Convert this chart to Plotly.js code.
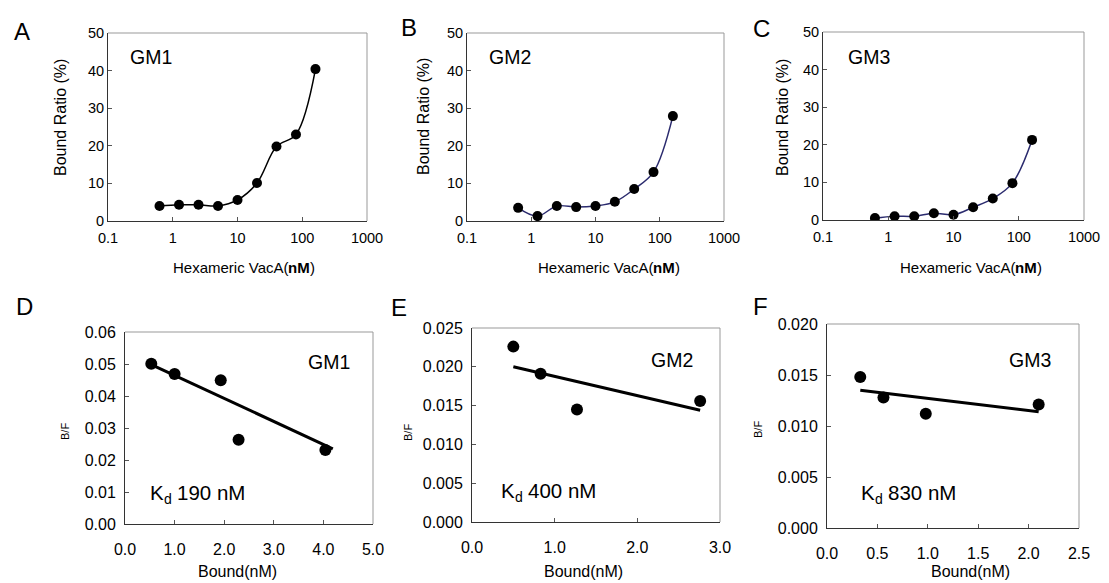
<!DOCTYPE html>
<html><head><meta charset="utf-8">
<script src="https://cdn.plot.ly/plotly-3.0.1.min.js"></script>
<style>html,body{margin:0;padding:0;background:#fff;}#chart{width:1109px;height:583px;}</style>
</head><body><div id="chart"></div>
<script>
// ---- data ----
const concX = [0.625, 1.25, 2.5, 5, 10, 20, 40, 80, 160];
const gm1Bound = [4.0, 4.3, 4.3, 4.0, 5.6, 10.1, 19.8, 23.0, 40.4];
const gm2Bound = [3.5, 1.3, 4.0, 3.7, 4.0, 5.1, 8.5, 13.0, 27.9];
const gm3Bound = [0.5, 1.0, 1.0, 1.8, 1.4, 3.4, 5.7, 9.8, 21.3];

const gm1ScatB = [0.53, 1.00, 1.93, 2.29, 4.04];
const gm1ScatBF = [0.0501, 0.0469, 0.0449, 0.0263, 0.0231];
const gm1FitB = [0.53, 4.19];
const gm1FitBF = [0.0498, 0.0235];

const gm2ScatB = [0.50, 0.83, 1.27, 2.76];
const gm2ScatBF = [0.0226, 0.0191, 0.0145, 0.0156];
const gm2FitB = [0.50, 2.76];
const gm2FitBF = [0.0200, 0.0144];

const gm3ScatB = [0.33, 0.56, 0.98, 2.10];
const gm3ScatBF = [0.0148, 0.0128, 0.0112, 0.0121];
const gm3FitB = [0.33, 2.10];
const gm3FitBF = [0.0135, 0.0114];

const logTickVals = [0.1, 1, 10, 100, 1000];
const logTickText = ['0.1', '1', '10', '100', '1000'];
const panelLetters = ['A', 'B', 'C', 'D', 'E', 'F'];
const gmNames = ['GM1', 'GM2', 'GM3'];
const kdValues = ['190 nM', '400 nM', '830 nM'];

// ---- layout helpers ----
const W = 1109, H = 583;
const FONT = 'Liberation Sans, Arial, sans-serif';
const dx = (a, b) => [a / W, b / W];
const dy = (t, b) => [1 - b / H, 1 - t / H];
const navy = '#2b2b6e';

const cv = document.createElement('canvas').getContext('2d');
function textW(t, size, bold) {
  cv.font = (bold ? 'bold ' : '') + size + 'px "Liberation Sans", Arial, sans-serif';
  return cv.measureText(t).width;
}

const traces = [];
function curve(x, y, xa, ya, color) {
  traces.push({x, y, xaxis: xa, yaxis: ya, type: 'scatter', mode: 'lines+markers',
    line: {color, width: 1.5, shape: 'spline', smoothing: 1},
    marker: {color: '#000', size: 10}, hoverinfo: 'skip'});
}
function scat(x, y, fx, fy, xa, ya) {
  traces.push({x: fx, y: fy, xaxis: xa, yaxis: ya, type: 'scatter', mode: 'lines',
    line: {color: '#000', width: 3}, hoverinfo: 'skip'});
  traces.push({x, y, xaxis: xa, yaxis: ya, type: 'scatter', mode: 'markers',
    marker: {color: '#000', size: 12}, hoverinfo: 'skip'});
}
curve(concX, gm1Bound, 'x', 'y', '#000');
curve(concX, gm2Bound, 'x2', 'y2', navy);
curve(concX, gm3Bound, 'x3', 'y3', navy);
scat(gm1ScatB, gm1ScatBF, gm1FitB, gm1FitBF, 'x4', 'y4');
scat(gm2ScatB, gm2ScatBF, gm2FitB, gm2FitBF, 'x5', 'y5');
scat(gm3ScatB, gm3ScatBF, gm3FitB, gm3FitBF, 'x6', 'y6');

const boxes = [
  {x: [108, 367], y: [33, 221]},
  {x: [467, 724], y: [33, 221]},
  {x: [823, 1084], y: [32, 220]},
  {x: [125, 373], y: [332, 524]},
  {x: [472, 720], y: [328, 522]},
  {x: [827, 1079], y: [324, 528]}
];

const layout = {
  width: W, height: H, showlegend: false,
  margin: {l: 0, r: 0, t: 0, b: 0},
  paper_bgcolor: '#fff', plot_bgcolor: '#fff',
  font: {family: FONT, color: '#000'},
  annotations: [], shapes: []
};

const axCommon = {showgrid: false, zeroline: false, showline: true, linecolor: '#333', linewidth: 1,
  ticks: 'inside', ticklen: 4, tickcolor: '#555', fixedrange: true};

for (let i = 0; i < 6; i++) {
  const k = i === 0 ? '' : String(i + 1);
  const b = boxes[i];
  const top = i < 3;
  const xa = Object.assign({}, axCommon, {domain: dx(b.x[0], b.x[1]), anchor: 'y' + k,
    tickfont: {size: top ? 14.5 : 16}});
  const ya = Object.assign({}, axCommon, {domain: dy(b.y[0], b.y[1]), anchor: 'x' + k,
    tickfont: {size: top ? 14.5 : 16}});
  if (top) {
    Object.assign(xa, {type: 'log', range: [-1, 3], tickvals: logTickVals, ticktext: logTickText, ticklabelstandoff: 4});
    Object.assign(ya, {range: [0, 50], dtick: 10, tick0: 0, ticklabelstandoff: 0});
  } else {
    if (i === 3) {
      Object.assign(xa, {range: [0, 5], dtick: 1, tick0: 0, tickformat: '.1f'});
      Object.assign(ya, {range: [0, 0.06], dtick: 0.01, tick0: 0, tickformat: '.2f'});
    } else if (i === 4) {
      Object.assign(xa, {range: [0, 3], dtick: 1, tick0: 0, tickformat: '.1f'});
      Object.assign(ya, {range: [0, 0.025], dtick: 0.005, tick0: 0, tickformat: '.3f'});
    } else {
      Object.assign(xa, {range: [0, 2.5], dtick: 0.5, tick0: 0, tickformat: '.1f'});
      Object.assign(ya, {range: [0, 0.02], dtick: 0.005, tick0: 0, tickformat: '.3f'});
    }
    xa.ticklabelstandoff = 11;
    ya.ticklabelstandoff = 5;
  }
  layout['xaxis' + k] = xa;
  layout['yaxis' + k] = ya;
  // gray top/right frame
  layout.shapes.push({type: 'line', xref: 'x' + k + ' domain', yref: 'y' + k + ' domain',
    x0: 0, x1: 1, y0: 1, y1: 1, line: {color: '#999', width: 1}});
  layout.shapes.push({type: 'line', xref: 'x' + k + ' domain', yref: 'y' + k + ' domain',
    x0: 1, x1: 1, y0: 0, y1: 1, line: {color: '#999', width: 1}});
}

function ann(xp, yp, text, size, opts, weight) {
  layout.annotations.push(Object.assign({xref: 'paper', yref: 'paper', x: xp / W, y: 1 - yp / H,
    text, showarrow: false, borderpad: 0,
    font: {size, family: FONT, color: '#000', weight: weight || 'normal'},
    xanchor: 'center', yanchor: 'middle'}, opts || {}));
}
// panel letters
const letterPos = [[22, 31], [409, 28], [761, 29], [24, 306], [399, 307], [760, 306]];
panelLetters.forEach((L, i) => ann(letterPos[i][0], letterPos[i][1], L, 24));
// GM labels
const gmTop = [[129, 57], [488, 57], [847, 57]];
const gmBot = [[307, 362], [650, 360], [1008, 360]];
gmNames.forEach((g, i) => {
  ann(gmTop[i][0], gmTop[i][1], g, 19.5, {xanchor: 'left'});
  ann(gmBot[i][0], gmBot[i][1], g, 19.5, {xanchor: 'left'});
});
// Kd labels: "K" + subscript "d" + value
const kdPos = [[149, 492], [500, 490], [860, 492]];
const KS = 20.5, DS = 14;
kdValues.forEach((v, i) => {
  const [x0, y0] = kdPos[i];
  const wK = textW('K', KS), wd = textW('d', DS), wsp = textW(' ', KS);
  ann(x0, y0, 'K', KS, {xanchor: 'left'});
  ann(x0 + wK, y0 + 7, 'd', DS, {xanchor: 'left'});
  ann(x0 + wK + wd + wsp, y0, v, KS, {xanchor: 'left'});
});
// axis titles: "Hexameric VacA(" + bold "nM" + ")"
const xtTop = [[243, 267], [608, 267], [970, 267]];
const XT = 15;
xtTop.forEach(p => {
  const w1 = textW('Hexameric VacA(', XT), w2 = textW('nM', XT, true), w3 = textW(')', XT);
  const start = p[0] - (w1 + w2 + w3) / 2;
  ann(start, p[1], 'Hexameric VacA(', XT, {xanchor: 'left'});
  ann(start + w1, p[1], 'nM', XT, {xanchor: 'left'}, 'bold');
  ann(start + w1 + w2, p[1], ')', XT, {xanchor: 'left'});
});
const ytTop = [[61, 118], [423, 117], [782, 117]];
ytTop.forEach(p => ann(p[0], p[1], 'Bound Ratio (%)', 16, {textangle: -90}));
const xtBot = [[237, 571], [583, 571], [970, 571]];
const ytBot = [[65, 432], [408, 433], [758, 430]];
xtBot.forEach(p => ann(p[0], p[1], 'Bound(nM)', 16));
ytBot.forEach(p => ann(p[0], p[1], 'B/F', 11, {textangle: -90}));

Plotly.newPlot('chart', traces, layout, {staticPlot: true, displayModeBar: false});
</script>
</body></html>
